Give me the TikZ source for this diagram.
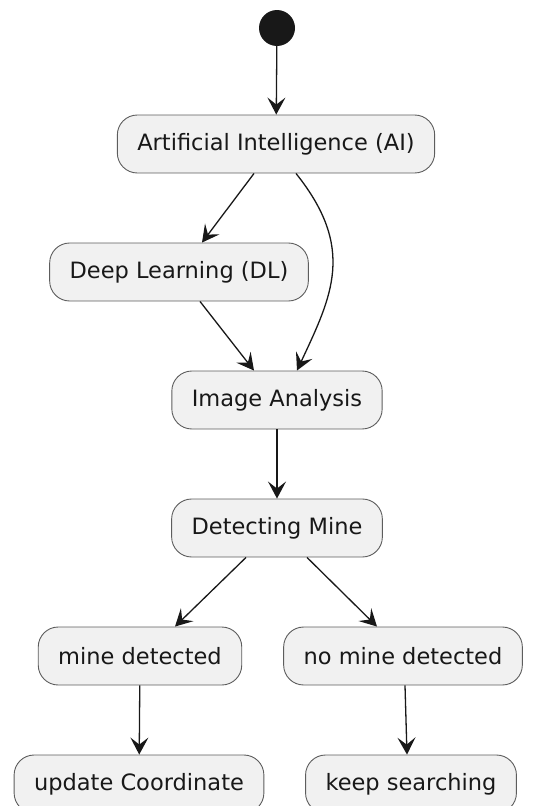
\documentclass[tikz,border=0pt]{standalone}
\usepackage{fontspec}
\setmainfont{DejaVu Sans}
\usetikzlibrary{arrows.meta}
\definecolor{boxfill}{HTML}{F1F1F1}
\definecolor{ink}{HTML}{181818}
\tikzset{
 box/.style={draw=ink!70,fill=boxfill,rounded corners=20pt,align=center,
             minimum height=58pt,inner xsep=20pt,line width=0.9pt,
             font=\fontsize{22.5}{26}\selectfont,text=ink},
 arrow/.style={-{Stealth[length=17pt,width=18pt,inset=7pt]},line width=1.3pt,draw=ink},
 startdot/.style={circle,fill=ink,minimum size=36pt,inner sep=0pt}
}
\begin{document}
\begin{tikzpicture}[x=1pt,y=-1pt]
\useasboundingbox (0,0) rectangle (534,806);
\node[startdot] (start) at (277,28) {};
\node[box] (ai) at (276,144) {Artificial Intelligence (AI)};
\node[box] (dl) at (179,272) {Deep Learning (DL)};
\node[box] (ia) at (277,400) {Image Analysis};
\node[box] (dm) at (277,528) {Detecting Mine};
\node[box] (md) at (140,656) {mine detected};
\node[box] (nmd) at (403,656) {no mine detected};
\node[box] (uc) at (139,784) {update Coordinate};
\node[box] (ks) at (411,784) {keep searching};
% flow
\draw[arrow] (start) -- (ai);
\draw[arrow] ([xshift=-22pt]ai.south) -- ([xshift=23pt]dl.north);
\draw[arrow] ([xshift=20pt]ai.south) .. controls +(60,75) and +(35,-75) .. ([xshift=20pt]ia.north);
\draw[arrow] ([xshift=21pt]dl.south) -- ([xshift=-23pt]ia.north);
\draw[arrow] (ia) -- (dm);
\draw[arrow] ([xshift=-31pt]dm.south) -- ([xshift=35pt]md.north);
\draw[arrow] ([xshift=30pt]dm.south) -- ([xshift=-26pt]nmd.north);
\draw[arrow] (md) -- (uc);
\draw[arrow] ([xshift=2pt]nmd.south) -- ([xshift=-4pt]ks.north);
\end{tikzpicture}
\end{document}
